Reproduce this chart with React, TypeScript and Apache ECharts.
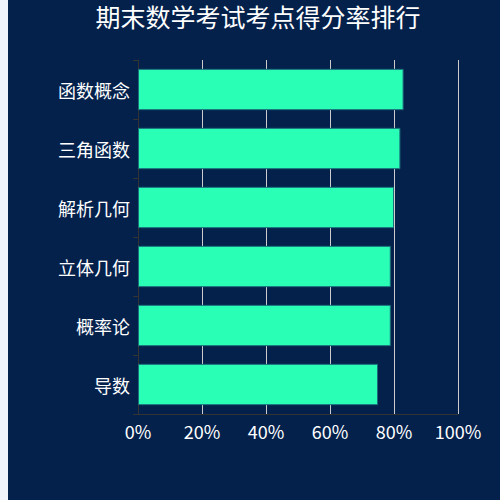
import React, { useEffect, useRef } from "react";
import * as echarts from "echarts";

const categories = ["导数", "概率论", "立体几何", "解析几何", "三角函数", "函数概念"];
const rates = [75, 79, 79, 80, 82, 83];
const xTicks = { min: 0, max: 100, interval: 20 };

export default function App() {
  const ref = useRef<HTMLDivElement>(null);
  useEffect(() => {
    if (!ref.current) return;
    const chart = echarts.init(ref.current, undefined, { renderer: "svg" });
    chart.setOption({
      animation: false,
      backgroundColor: "#04214c",
      title: {
        text: "期末数学考试考点得分率排行",
        left: "center",
        top: 2,
        padding: 0,
        textStyle: {
          color: "#ffffff",
          fontSize: 25,
          lineHeight: 27,
          fontWeight: "normal",
          fontFamily: "Noto Sans CJK SC",
        },
      },
      grid: { left: 130, right: 50, top: 60, bottom: 86, containLabel: false },
      xAxis: {
        type: "value",
        min: xTicks.min,
        max: xTicks.max,
        interval: xTicks.interval,
        axisLine: { show: true, lineStyle: { color: "#333" } },
        axisTick: { show: false },
        axisLabel: {
          color: "#ffffff",
          fontSize: 18,
          formatter: "{value}%",
          fontFamily: "Noto Sans CJK SC",
        },
        splitLine: { show: true, lineStyle: { color: "#cccccc", width: 1 } },
      },
      yAxis: {
        type: "category",
        data: categories,
        axisLine: { show: true, lineStyle: { color: "#333" } },
        axisTick: { show: true, length: 5 },
        axisLabel: {
          color: "#ffffff",
          fontSize: 18,
          fontFamily: "Noto Sans CJK SC",
        },
        splitLine: { show: false },
      },
      series: [
        {
          type: "bar",
          data: rates,
          barWidth: "70%",
          itemStyle: {
            color: "#2affb6",
            borderColor: "#1a6e7a",
            borderWidth: 1,
          },
        },
      ],
    });
    return () => chart.dispose();
  }, []);
  return (
    <>
      <div
        style={{
          position: "fixed",
          left: 0,
          top: 0,
          width: 8,
          height: "100%",
          background: "#f0f3f9",
        }}
      />
      <div
        ref={ref}
        style={{ position: "fixed", left: 8, top: 0, width: 500, height: 500 }}
      />
    </>
  );
}
